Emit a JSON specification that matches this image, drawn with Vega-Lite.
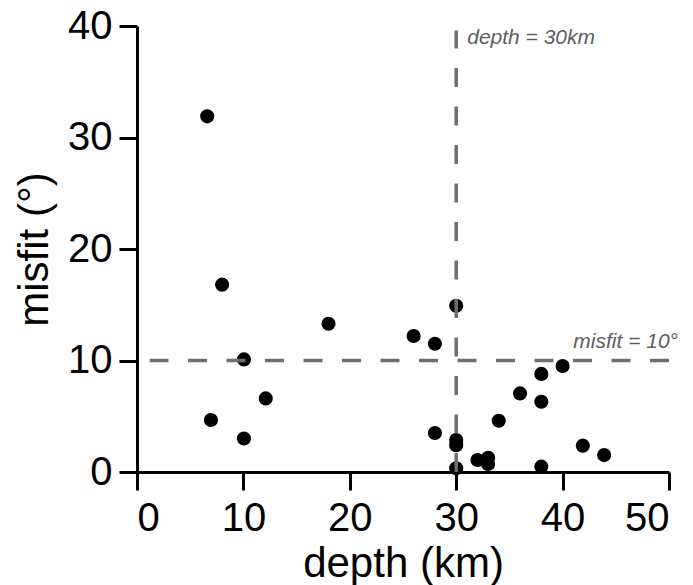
{
  "$schema": "https://vega.github.io/schema/vega-lite/v6.json",
  "autosize": {"type": "none"},
  "width": 532,
  "height": 446,
  "padding": {"left": 137, "top": 26, "right": 24, "bottom": 113},
  "background": "white",
  "config": {
    "view": {"stroke": null},
    "font": "Liberation Sans",
    "axis": {
      "grid": false,
      "domainColor": "black",
      "domainWidth": 3,
      "tickColor": "black",
      "tickWidth": 3,
      "tickSize": 18,
      "labelFont": "Liberation Sans",
      "labelFontSize": 40,
      "labelColor": "black",
      "titleFont": "Liberation Sans",
      "titleFontSize": 42,
      "titleFontWeight": "normal",
      "titleColor": "black"
    }
  },
  "datasets": {
    "pts": [
      {"depth": 6.6, "misfit": 31.9},
      {"depth": 8.0, "misfit": 16.8},
      {"depth": 18.0, "misfit": 13.3},
      {"depth": 10.05, "misfit": 10.1},
      {"depth": 12.1, "misfit": 6.6},
      {"depth": 6.95, "misfit": 4.66},
      {"depth": 10.05, "misfit": 3.0},
      {"depth": 30.0, "misfit": 14.9},
      {"depth": 26.0, "misfit": 12.2},
      {"depth": 28.0, "misfit": 11.5},
      {"depth": 40.0, "misfit": 9.5},
      {"depth": 38.0, "misfit": 8.8},
      {"depth": 36.0, "misfit": 7.05},
      {"depth": 38.0, "misfit": 6.3},
      {"depth": 34.0, "misfit": 4.6},
      {"depth": 28.0, "misfit": 3.5},
      {"depth": 30.0, "misfit": 2.87},
      {"depth": 30.0, "misfit": 2.4},
      {"depth": 32.0, "misfit": 1.08},
      {"depth": 33.0, "misfit": 1.28},
      {"depth": 33.0, "misfit": 0.72},
      {"depth": 30.0, "misfit": 0.33},
      {"depth": 38.0, "misfit": 0.48},
      {"depth": 41.9, "misfit": 2.36},
      {"depth": 43.9, "misfit": 1.52}
    ],
    "hrule": [{"x": 50, "x2": 1.2, "y": 10}],
    "vrule": [{"x": 30, "y": 0, "y2": 39.6}],
    "lab1": [{"x": 30, "y": 40, "label": "depth = 30km"}],
    "lab2": [{"x": 50, "y": 10, "label": "misfit = 10°"}]
  },
  "layer": [
    {
      "data": {"name": "pts"},
      "mark": {"type": "circle", "size": 200, "color": "black", "opacity": 1},
      "encoding": {
        "x": {
          "field": "depth", "type": "quantitative",
          "scale": {"domain": [0, 50], "nice": false},
          "axis": {"values": [0, 10, 20, 30, 40, 50], "title": "depth (km)", "labelPadding": 8, "titleBaseline": "alphabetic", "titlePadding": 38}
        },
        "y": {
          "field": "misfit", "type": "quantitative",
          "scale": {"domain": [0, 40], "nice": false},
          "axis": {"values": [0, 10, 20, 30, 40], "title": "misfit (°)", "labelPadding": 7, "titleBaseline": "alphabetic", "titlePadding": 20}
        }
      }
    },
    {
      "data": {"name": "hrule"},
      "mark": {"type": "rule", "color": "#6e6e6e", "strokeWidth": 3.5, "strokeDash": [19, 19.5], "strokeCap": "butt"},
      "encoding": {
        "x": {"field": "x", "type": "quantitative"},
        "x2": {"field": "x2"},
        "y": {"field": "y", "type": "quantitative"}
      }
    },
    {
      "data": {"name": "vrule"},
      "mark": {"type": "rule", "color": "#6e6e6e", "strokeWidth": 3.5, "strokeDash": [19, 19.5], "strokeCap": "butt"},
      "encoding": {
        "x": {"field": "x", "type": "quantitative"},
        "y": {"field": "y", "type": "quantitative"},
        "y2": {"field": "y2"}
      }
    },
    {
      "data": {"name": "lab1"},
      "mark": {"type": "text", "align": "left", "baseline": "alphabetic", "dx": 11, "dy": 18, "fontSize": 21, "fontStyle": "italic", "color": "#5e5e5e", "font": "Liberation Sans"},
      "encoding": {
        "x": {"field": "x", "type": "quantitative"},
        "y": {"field": "y", "type": "quantitative"},
        "text": {"field": "label"}
      }
    },
    {
      "data": {"name": "lab2"},
      "mark": {"type": "text", "align": "right", "baseline": "alphabetic", "dx": 9, "dy": -13, "fontSize": 21, "fontStyle": "italic", "color": "#5e5e5e", "font": "Liberation Sans"},
      "encoding": {
        "x": {"field": "x", "type": "quantitative"},
        "y": {"field": "y", "type": "quantitative"},
        "text": {"field": "label"}
      }
    }
  ]
}
